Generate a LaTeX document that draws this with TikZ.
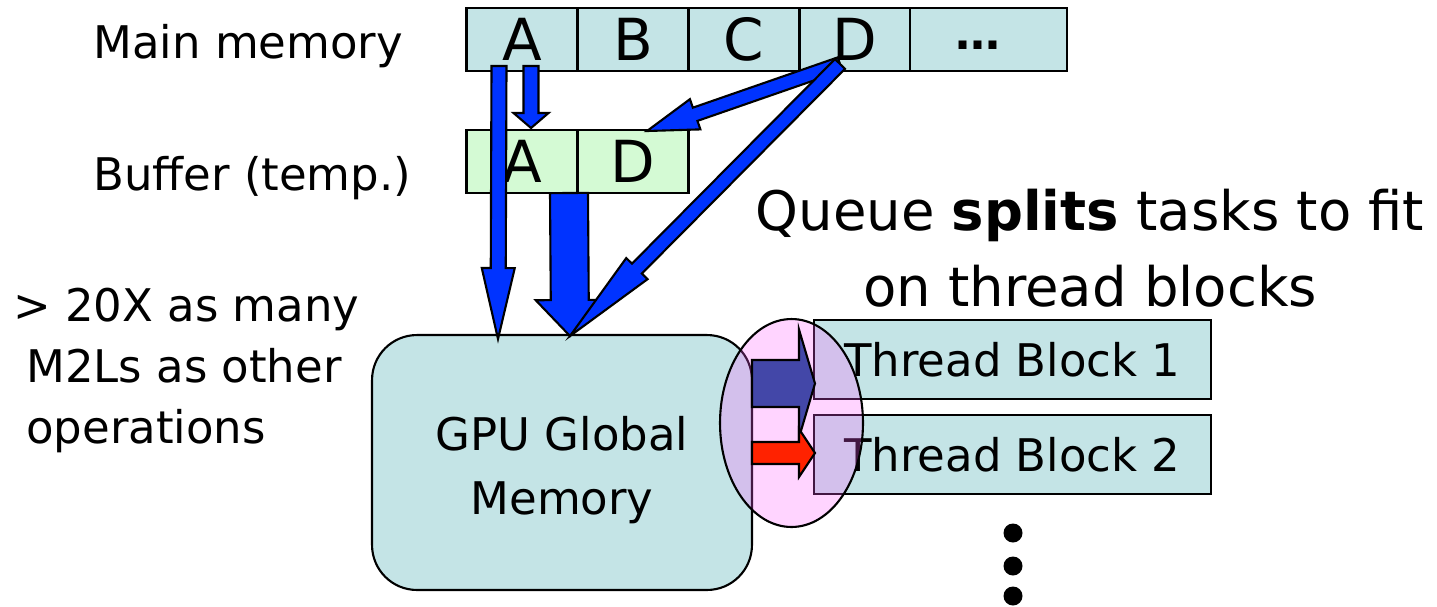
\documentclass[tikz,border=0pt]{standalone}
\usepackage{fontspec}
\setmainfont{DejaVu Sans}
\usetikzlibrary{positioning,calc,shapes.geometric}

\definecolor{memcyan}{RGB}{196,228,230}
\definecolor{bufgreen}{RGB}{212,250,212}
\definecolor{xferblue}{RGB}{0,51,255}
\definecolor{queueblue}{RGB}{67,71,168}
\definecolor{queuered}{RGB}{255,34,0}
\definecolor{queuepink}{RGB}{255,90,255}

% filled arrow with outline: tail, tip, shaft half width, head half width, head length
\newcommand{\blockarrow}[6][]{%
  \draw[blockline,#1] let \p1=($(#3)!#6!(#2)$) in
    ($(#2)!#4!90:(#3)$) -- ($(\p1)!#4!90:(#3)$) -- ($(\p1)!#5!90:(#3)$) -- (#3)
    -- ($(\p1)!#5!-90:(#3)$) -- ($(\p1)!#4!-90:(#3)$) -- ($(#2)!#4!-90:(#3)$) -- cycle;}

\begin{document}
\begin{tikzpicture}[
  x=0.02cm, y=-0.02cm,
  cell/.style={rectangle, draw, line width=1.2pt, fill=#1, outer sep=0pt, inner sep=0pt,
               minimum width=2.22cm, minimum height=1.26cm,
               font=\fontsize{33}{36}\selectfont},
  cell/.default={memcyan},
  label/.style={inner sep=0pt, font=\fontsize{25.6}{31}\selectfont},
  tblock/.style={rectangle, draw, line width=1.2pt, fill=memcyan, inner sep=0pt,
                 minimum width=7.94cm, minimum height=1.58cm,
                 font=\fontsize{25.6}{31}\selectfont},
  blockline/.style={draw=black, line width=1.2pt, fill=xferblue}
]
  \useasboundingbox (0,0) rectangle (1437,606);

  % main memory and buffer rows
  \node[cell] (memA) at (522,39.5) {A};
  \node[cell, right=0pt of memA] (memB) {B};
  \node[cell, right=0pt of memB] (memC) {C};
  \node[cell, right=0pt of memC] (memD) {D};
  \node[cell, right=0pt of memD, minimum width=3.14cm] (memrest) {};
  \node[label, anchor=base] (memdots) at (978,49) {\textbf{…}};

  \node[cell=bufgreen] (bufA) at (522,161.5) {A};
  \node[cell=bufgreen, right=0pt of bufA] (bufD) {D};

  \node[label, anchor=base west] (memlabel) at (93,58) {Main memory};
  \node[label, anchor=base west] (buflabel) at (93,190) {Buffer (temp.)};

  % multi-line labels sit on the baseline of their last line
  \node[label, anchor=base, align=center, font=\fontsize{31}{42.7}\selectfont] (queuetext)
    at (1090,306) {Queue \textbf{splits} tasks to fit\\on thread blocks};
  \node[label, anchor=base west, align=left, font=\fontsize{25.6}{34.5}\selectfont] (ratio)
    at (26,443) {\hspace*{-0.26cm}> 20X as many\\M2Ls as other\\operations};

  % GPU side
  \node[rectangle, draw, line width=1.2pt, fill=memcyan, rounded corners=0.9cm,
        minimum width=7.6cm, minimum height=5.1cm] (gpu) at (562,462.5) {};
  \node[label, align=center, font=\fontsize{25.6}{36}\selectfont] (gputext)
    at (562,470) {GPU Global\\Memory};
  \node[tblock] (tb1) at (1012.5,359.5) {Thread Block 1};
  \node[tblock] (tb2) at (1012.5,454.5) {Thread Block 2};
  \foreach \y in {533,566,596}
    \fill (1013,\y) circle (0.19cm);

  % the queue
  \node[ellipse, draw, line width=1.2pt, fill=queuepink, fill opacity=0.26, draw opacity=1,
        minimum width=2.86cm, minimum height=4.16cm, inner sep=0pt] (queue) at (791.5,423) {};
  \coordinate (qin1) at (752,383.5);  \coordinate (qout1) at (815,383.5);
  \coordinate (qin2) at (752,453);    \coordinate (qout2) at (815,453);
  \blockarrow[fill=queueblue]{qin1}{qout1}{0.47cm}{1.08cm}{0.32cm}
  \blockarrow[fill=queuered]{qin2}{qout2}{0.22cm}{0.48cm}{0.32cm}

  % transfers
  \coordinate (aout)  at (499,66);   \coordinate (gpuA) at (498,339);
  \coordinate (acopy) at (531,66);   \coordinate (bufAin) at (531,128);
  \coordinate (dout)  at (840,64);   \coordinate (bufDin) at (647,131);
  \coordinate (bufout) at (569,193); \coordinate (gpuin) at (570,336);
  \blockarrow{bufout}{gpuin}{0.38cm}{0.68cm}{0.72cm}
  \blockarrow{aout}{gpuA}{0.15cm}{0.33cm}{1.42cm}
  \blockarrow{acopy}{bufAin}{0.15cm}{0.35cm}{0.3cm}
  \blockarrow{dout}{bufDin}{0.14cm}{0.32cm}{1.02cm}
  \blockarrow{dout}{gpuin}{0.14cm}{0.3cm}{1.9cm}
\end{tikzpicture}
\end{document}
